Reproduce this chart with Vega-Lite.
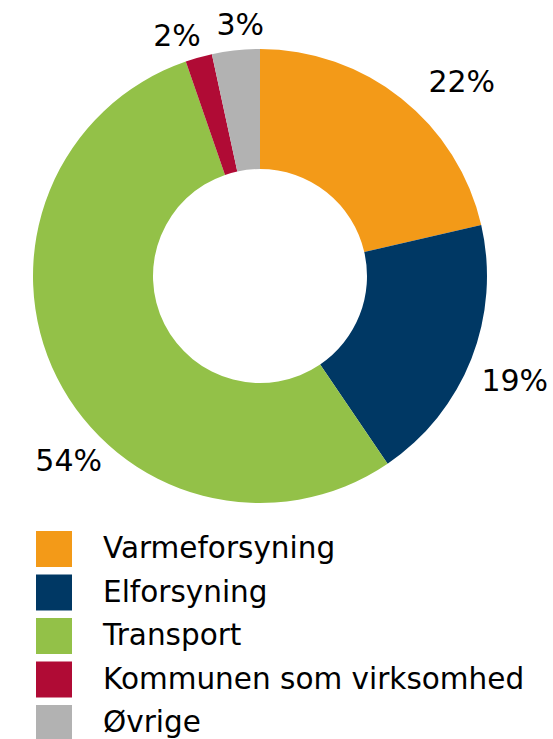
{
  "$schema": "https://vega.github.io/schema/vega-lite/v6.json",
  "width": 520,
  "height": 552,
  "autosize": {"type": "none"},
  "padding": {"left": 0, "top": 0, "right": 33, "bottom": 187},
  "background": "white",
  "config": {"view": {"stroke": null}, "font": "DejaVu Sans"},
  "data": {
    "values": [
      {"idx": 1, "cat": "Varmeforsyning", "value": 21.4, "label": "22%"},
      {"idx": 2, "cat": "Elforsyning", "value": 19.1, "label": "19%"},
      {"idx": 3, "cat": "Transport", "value": 54.2, "label": "54%"},
      {"idx": 4, "cat": "Kommunen som virksomhed", "value": 1.9, "label": "2%"},
      {"idx": 5, "cat": "Øvrige", "value": 3.4, "label": "3%"}
    ]
  },
  "encoding": {
    "theta": {"field": "value", "type": "quantitative", "stack": true},
    "order": {"field": "idx", "type": "quantitative"}
  },
  "layer": [
    {
      "mark": {"type": "arc", "innerRadius": 107, "outerRadius": 227},
      "encoding": {
        "color": {
          "field": "cat",
          "type": "nominal",
          "sort": ["Varmeforsyning", "Elforsyning", "Transport", "Kommunen som virksomhed", "Øvrige"],
          "scale": {
            "domain": ["Varmeforsyning", "Elforsyning", "Transport", "Kommunen som virksomhed", "Øvrige"],
            "range": ["#F39A18", "#003864", "#93C148", "#B00B35", "#B2B2B2"]
          },
          "legend": {
            "title": null,
            "orient": "none",
            "legendX": 36,
            "legendY": 531,
            "direction": "vertical",
            "padding": 0,
            "symbolType": "square",
            "symbolSize": 1296,
            "symbolStrokeWidth": 0,
            "symbolOpacity": 1,
            "labelFontSize": 29.5,
            "labelColor": "#000000",
            "labelFont": "DejaVu Sans",
            "labelOffset": 31,
            "labelLimit": 600,
            "rowPadding": 7.5
          }
        }
      }
    },
    {
      "mark": {"type": "text", "radius": 279, "thetaOffset": 0.136, "fontSize": 30, "fill": "#000000", "align": "center", "baseline": "middle"},
      "encoding": {
        "detail": {"field": "cat", "type": "nominal"},
        "text": {"condition": {"test": "datum.cat === 'Varmeforsyning'", "field": "label"}, "value": ""}
      }
    },
    {
      "mark": {"type": "text", "radius": 276, "thetaOffset": 0.021, "fontSize": 30, "fill": "#000000", "align": "center", "baseline": "middle"},
      "encoding": {
        "detail": {"field": "cat", "type": "nominal"},
        "text": {"condition": {"test": "datum.cat === 'Elforsyning'", "field": "label"}, "value": ""}
      }
    },
    {
      "mark": {"type": "text", "radius": 267, "thetaOffset": -0.307, "fontSize": 30, "fill": "#000000", "align": "center", "baseline": "middle"},
      "encoding": {
        "detail": {"field": "cat", "type": "nominal"},
        "text": {"condition": {"test": "datum.cat === 'Transport'", "field": "label"}, "value": ""}
      }
    },
    {
      "mark": {"type": "text", "radius": 253, "thetaOffset": -0.061, "fontSize": 30, "fill": "#000000", "align": "center", "baseline": "middle"},
      "encoding": {
        "detail": {"field": "cat", "type": "nominal"},
        "text": {"condition": {"test": "datum.cat === 'Kommunen som virksomhed'", "field": "label"}, "value": ""}
      }
    },
    {
      "mark": {"type": "text", "radius": 251, "thetaOffset": 0.028, "fontSize": 30, "fill": "#000000", "align": "center", "baseline": "middle"},
      "encoding": {
        "detail": {"field": "cat", "type": "nominal"},
        "text": {"condition": {"test": "datum.cat === 'Øvrige'", "field": "label"}, "value": ""}
      }
    }
  ]
}
